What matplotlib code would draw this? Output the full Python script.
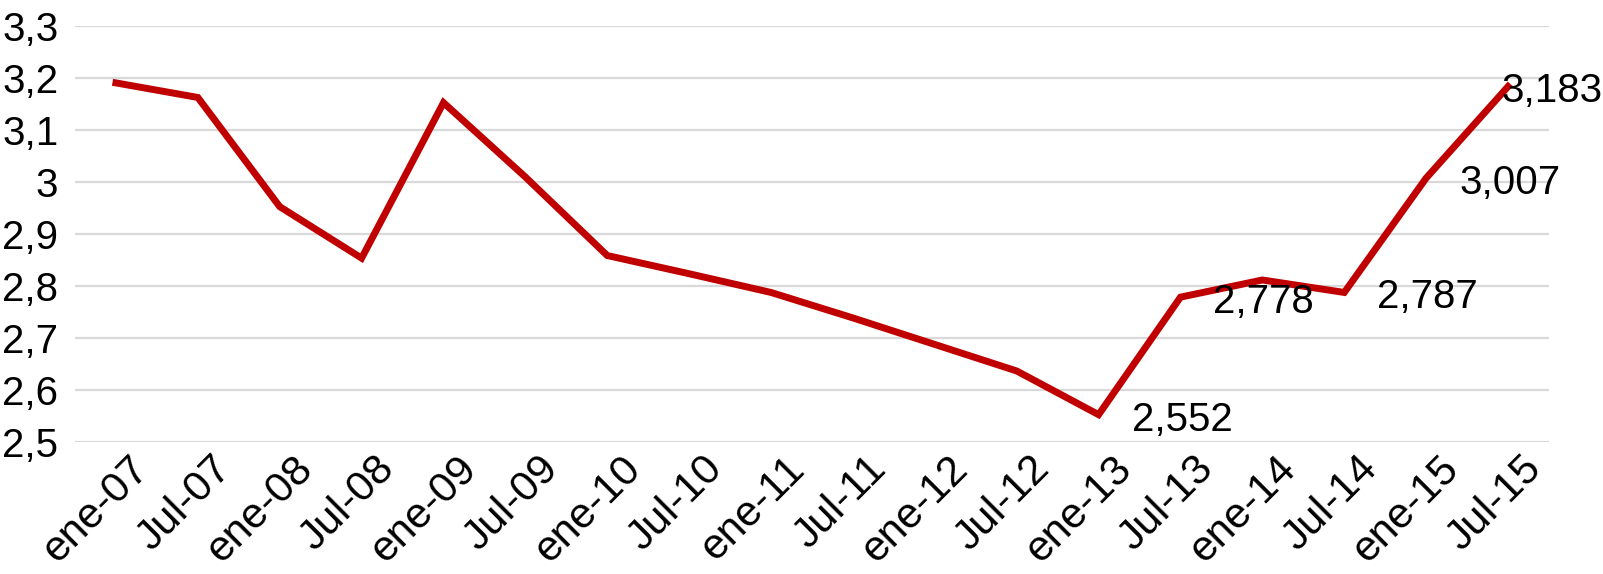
import matplotlib
matplotlib.use("Agg")
import matplotlib.pyplot as plt

plt.rcParams['font.family'] = ['Liberation Sans', 'DejaVu Sans']

categories = ["ene-07", "Jul-07", "ene-08", "Jul-08", "ene-09", "Jul-09", "ene-10", "Jul-10",
              "ene-11", "Jul-11", "ene-12", "Jul-12", "ene-13", "Jul-13", "ene-14", "Jul-14",
              "ene-15", "Jul-15"]
values = [3.190, 3.162, 2.952, 2.853, 3.152, 3.009, 2.858, 2.823,
          2.787, 2.738, 2.687, 2.636, 2.552, 2.778, 2.811, 2.787,
          3.007, 3.183]
labeled_idx = [12, 13, 15, 16, 17]
label_texts = ["2,552", "2,778", "2,787", "3,007", "3,183"]
y_ticks = [2.5, 2.6, 2.7, 2.8, 2.9, 3.0, 3.1, 3.2, 3.3]
y_tick_labels = ["2,5", "2,6", "2,7", "2,8", "2,9", "3", "3,1", "3,2", "3,3"]

FS = 29
W, H = 1603, 574
fig = plt.figure(figsize=(W / 100, H / 100), dpi=100)
left, right = 75 / W, 1549 / W
top, bottom = 1 - 25.7 / H, 1 - 441.7 / H
ax = fig.add_axes([left, bottom, right - left, top - bottom])

x = list(range(len(categories)))
ax.plot(x, values, color="#C00000", lw=5.0, solid_joinstyle="miter", zorder=3)

ax.set_xlim(-0.5, len(categories) - 0.5)
ax.set_ylim(2.5, 3.3)
ax.set_yticks(y_ticks)
ax.set_yticklabels(y_tick_labels, fontsize=FS)
ax.set_xticks(x)
ax.set_xticklabels([])
for i, c in enumerate(categories):
    ax.annotate(c, xy=(i, 0), xycoords=("data", "axes fraction"),
                xytext=(27, -21), textcoords="offset pixels",
                rotation=45, ha="right", va="center", rotation_mode="anchor",
                fontsize=30.5, annotation_clip=False)
ax.tick_params(axis="both", length=0)
ax.tick_params(axis="y", pad=12)
for s in ax.spines.values():
    s.set_visible(False)
ax.grid(axis="y", color="#D9D9D9", lw=1.6)
ax.grid(axis="x", visible=False)
ax.set_axisbelow(True)

for i, t in zip(labeled_idx, label_texts):
    if i == len(categories) - 1:
        ax.annotate(t, xy=(1.0, values[i]), xycoords=(fig.transFigure, "data"),
                    xytext=(0, -4), textcoords="offset pixels",
                    ha="right", va="center", fontsize=FS, zorder=4, annotation_clip=False)
    else:
        ax.annotate(t, xy=(i, values[i]), xytext=(33, -5), textcoords="offset pixels",
                    ha="left", va="center", fontsize=FS, zorder=4, annotation_clip=False)

fig.savefig("out.png", dpi=100)
